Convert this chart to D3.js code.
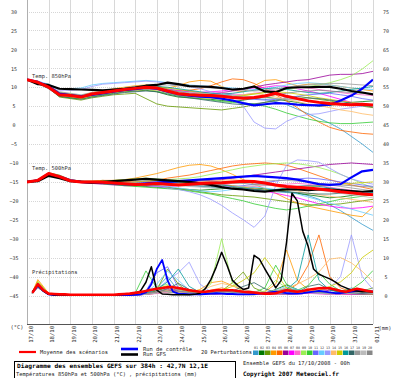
<!DOCTYPE html>
<html><head><meta charset="utf-8">
<script src="https://cdn.jsdelivr.net/npm/d3@7"></script>
<style>html,body{margin:0;padding:0;background:#fff;overflow:hidden}text{font-family:"DejaVu Sans Mono",monospace}</style>
</head><body><svg id="c" width="400" height="378"></svg>
<script>
const DATES = ["17/10","18/10","19/10","20/10","21/10","22/10","23/10","24/10","25/10","26/10","26/10","27/10","28/10","29/10","30/10","31/10","01/11"];
const LEFT_TICKS = [30,25,20,15,10,5,0,-5,-10,-15,-20,-25,-30,-35,-40,-45];
const RIGHT_TICKS = [75,70,65,60,55,50,45,40,35,30,25,20,15,10,5,0];
const HOURS = d3.range(0, 385, 12);
const P_HOURS = [6].concat(d3.range(12, 385, 12));
const P6_HOURS = d3.range(6, 385, 6);
const MEMBER_IDS = ["01","02","03","04","05","06","07","08","09","10","11","12","13","14","15","16","17","18","19","20"];
const MEMBER_COLORS = ["#3399cc","#007700","#669900","#ff9900","#ff6600","#990099","#ff00ff","#ff66cc","#99ee55","#33cc33","#6666ff","#66ccff","#9999ff","#ffbb66","#cccc00","#009999","#336666","#999999","#bbbbbb","#888888"];

const T850_MEAN = [12.0,11.3,10.0,8.0,7.8,7.4,8.2,8.6,9.0,9.4,9.7,10.0,9.8,9.0,8.3,8.0,7.9,7.8,7.6,7.3,7.1,7.3,7.7,8.4,7.6,7.0,6.4,6.0,5.7,5.5,5.4,5.5,5.3];
const T850_GFS = [12.0,10.8,10.6,9.6,9.5,9.4,9.3,9.2,9.4,9.6,9.9,10.4,10.6,11.2,10.8,10.3,10.2,10.1,9.8,9.4,9.6,10.2,8.9,8.7,9.8,10.0,10.0,10.1,10.1,9.6,9.0,8.6,8.1];
const T850_CTRL = [12.0,11.4,10.2,8.3,7.9,7.6,8.0,8.4,8.8,9.2,9.5,9.8,9.6,8.8,8.2,7.8,7.5,7.4,7.0,6.5,5.8,5.2,5.5,5.8,5.7,5.4,5.3,5.2,5.4,6.5,7.8,9.6,12.0];
const T850_PERT = [
[12.0,11.2,10.2,8.4,8.0,7.6,8.3,8.8,9.2,9.6,10.2,10.5,10.3,9.6,9.0,8.8,8.6,8.4,8.2,8.0,7.4,7.0,6.8,6.2,5.4,4.2,3.0,1.8,0.5,-1.0,-3.0,-5.0,-7.2],
[12.0,11.0,9.8,7.6,7.2,7.0,7.6,8.0,8.4,8.8,9.0,9.2,8.8,8.0,7.4,7.2,7.0,6.8,6.5,6.2,6.6,7.0,7.4,7.0,6.4,6.0,5.4,5.0,5.2,5.6,6.0,6.2,6.4],
[12.0,11.2,9.8,7.4,7.0,6.6,7.2,7.6,8.0,8.2,8.4,7.0,5.6,5.0,4.8,4.6,4.4,4.2,4.0,4.4,4.8,5.4,6.0,6.6,7.2,7.6,7.2,6.8,6.4,5.8,5.4,5.0,4.6],
[12.0,11.4,10.4,8.6,8.2,7.8,8.6,9.0,9.6,10.0,10.4,10.6,10.2,9.8,10.4,11.4,11.8,11.6,10.2,9.2,8.8,10.4,11.8,12.0,11.2,10.4,10.8,11.0,10.6,10.2,9.8,9.4,9.0],
[12.0,11.3,10.2,8.2,7.9,7.5,8.0,8.6,9.0,9.4,9.8,10.0,9.6,9.2,9.0,9.2,9.6,10.4,11.4,12.2,12.0,11.0,9.6,8.0,6.4,4.6,2.6,0.8,-0.6,-1.4,-1.8,-2.2,-2.4],
[12.0,11.4,10.2,8.4,8.0,7.6,8.2,8.8,9.2,9.4,9.6,9.8,9.4,8.8,8.4,8.2,8.0,8.2,8.6,9.0,9.4,10.0,10.6,11.0,11.4,11.8,12.0,12.6,13.2,13.4,13.4,13.6,14.2],
[12.0,11.2,10.0,8.0,7.6,7.4,8.0,8.4,8.8,9.2,9.6,9.8,9.6,9.4,9.2,8.8,8.6,8.8,9.0,9.4,9.6,9.8,10.0,10.4,10.2,9.6,9.0,8.4,7.6,6.8,6.0,5.6,5.4],
[12.0,11.3,10.0,8.2,7.8,7.4,8.0,8.4,8.8,9.2,9.4,9.6,9.4,9.0,8.6,8.4,8.6,8.8,8.6,8.2,8.0,8.4,8.8,9.2,9.6,10.0,9.8,9.4,9.0,8.6,8.2,8.0,7.8],
[12.0,11.4,10.2,8.6,8.2,7.8,8.4,8.8,9.4,9.8,10.0,10.2,9.8,9.0,8.4,8.0,7.6,7.4,7.2,7.4,7.8,8.2,8.6,9.0,9.4,9.8,10.2,10.6,11.2,12.0,13.0,14.8,17.0],
[12.0,11.2,9.8,7.8,7.4,7.0,7.6,8.0,8.6,9.0,9.2,9.4,9.0,8.4,7.8,7.4,7.0,6.6,6.2,6.0,5.8,5.6,5.0,4.2,3.2,2.4,1.6,1.0,0.6,0.4,0.4,0.6,0.8],
[12.0,11.3,10.1,8.2,7.8,7.5,8.2,8.6,9.0,9.4,9.8,10.0,9.6,8.8,8.2,8.0,7.8,7.6,7.4,7.2,7.0,6.8,6.6,6.8,7.2,7.6,8.0,8.2,8.4,8.0,7.6,7.0,6.6],
[12.0,11.6,10.8,9.6,9.6,9.8,10.6,11.0,11.2,11.4,11.6,11.8,11.6,11.2,10.8,10.6,10.4,10.2,10.0,9.8,9.6,9.4,9.6,10.0,10.6,11.0,11.2,11.0,10.6,10.2,9.8,9.6,9.4],
[12.0,11.6,10.6,9.2,9.2,9.4,10.2,10.8,11.0,11.2,11.4,11.6,11.4,11.0,10.6,10.2,9.6,8.8,8.0,6.8,5.0,0.8,-0.8,-1.0,1.0,2.2,2.8,3.0,3.6,4.2,4.6,5.0,5.4],
[12.0,11.2,10.0,8.0,7.6,7.2,7.8,8.2,8.6,9.0,9.2,9.4,9.2,8.6,8.0,7.6,7.2,7.0,7.2,7.6,8.0,8.4,8.0,7.4,6.8,6.2,5.6,5.2,4.6,4.0,3.6,3.0,2.6],
[12.0,11.1,9.9,7.8,7.4,7.0,7.6,8.2,8.6,9.0,9.4,9.8,10.0,9.8,9.4,9.0,8.6,8.2,7.8,7.6,7.8,8.2,8.6,8.8,8.6,8.2,7.8,7.2,6.8,6.4,6.0,5.6,5.2],
[12.0,11.3,10.1,8.2,7.8,7.4,8.0,8.4,8.8,9.2,9.6,10.0,10.2,10.0,9.6,9.2,8.8,8.4,8.2,8.4,8.8,9.2,9.6,9.8,9.4,9.0,8.6,8.4,8.6,9.0,9.4,9.8,10.2],
[12.0,11.0,9.6,7.6,7.2,6.8,7.4,7.8,8.2,8.6,8.8,9.0,8.8,8.2,7.6,7.2,6.8,6.4,6.0,5.6,5.4,5.6,6.0,6.4,6.8,7.0,7.2,7.0,6.6,6.2,5.8,5.2,4.8],
[12.0,11.4,10.4,8.8,8.4,8.0,8.6,9.0,9.4,9.8,10.2,10.4,10.6,10.6,10.4,10.2,10.0,9.8,9.6,9.4,9.2,9.0,9.2,9.6,10.0,10.4,10.6,10.8,11.0,11.0,10.8,10.6,10.4],
[12.0,11.2,10.0,8.0,7.6,7.2,7.8,8.4,8.8,9.2,9.6,9.8,9.6,9.2,8.8,8.6,8.4,8.2,8.0,7.8,7.6,7.4,7.2,7.0,6.8,6.6,6.4,6.2,6.0,5.8,5.6,5.4,5.2],
[12.0,11.3,10.2,8.4,8.0,7.6,8.2,8.6,9.0,9.4,9.8,10.2,10.0,9.4,8.8,8.4,8.2,8.0,7.8,7.6,7.4,7.2,7.6,8.0,8.4,8.8,9.0,9.2,9.0,8.8,8.6,8.4,8.2]
];

const T500_MEAN = [-15.0,-14.6,-12.8,-13.6,-14.7,-15.0,-15.0,-15.1,-15.3,-15.5,-15.7,-15.6,-15.4,-15.6,-15.8,-15.6,-15.4,-15.3,-15.2,-15.0,-14.8,-14.9,-15.3,-15.8,-16.2,-16.4,-16.6,-16.9,-17.2,-17.6,-17.9,-18.2,-18.4];
const T500_GFS = [-15.0,-14.8,-13.4,-14.0,-14.8,-15.0,-15.2,-15.0,-14.8,-14.6,-14.4,-14.2,-14.4,-14.6,-14.8,-15.0,-15.4,-15.8,-16.4,-16.8,-17.0,-17.4,-17.6,-17.2,-17.0,-17.0,-17.2,-17.0,-17.0,-17.2,-17.4,-17.6,-17.4];
const T500_CTRL = [-15.0,-14.6,-13.0,-13.6,-14.6,-15.0,-15.2,-15.2,-15.4,-15.6,-15.6,-15.4,-15.2,-15.0,-14.8,-14.6,-14.4,-14.2,-14.0,-13.8,-13.6,-13.4,-13.6,-13.8,-14.0,-14.4,-15.0,-15.6,-15.8,-15.6,-13.8,-12.2,-11.8];
const T500_PERT = [
[-15.0,-14.6,-13.0,-13.6,-14.6,-15.0,-15.1,-15.2,-15.4,-15.8,-16.0,-15.8,-15.6,-15.6,-15.8,-16.0,-16.2,-16.4,-16.6,-16.8,-17.0,-17.2,-17.4,-17.6,-17.8,-18.0,-18.6,-19.6,-21.0,-22.6,-24.4,-26.2,-27.8],
[-15.0,-14.5,-12.8,-13.4,-14.6,-15.0,-15.2,-15.4,-15.6,-15.8,-16.0,-16.2,-16.4,-16.6,-16.8,-17.0,-17.2,-17.0,-16.8,-16.6,-16.4,-16.6,-16.8,-17.2,-17.6,-18.0,-18.4,-18.8,-19.2,-19.0,-18.6,-18.2,-17.8],
[-15.0,-14.4,-12.6,-13.2,-14.4,-14.8,-14.8,-14.6,-14.8,-15.0,-15.2,-15.6,-16.0,-16.4,-16.8,-17.2,-17.6,-18.0,-18.4,-18.6,-18.8,-19.0,-19.4,-19.8,-20.2,-20.6,-21.0,-21.2,-21.0,-20.8,-20.4,-20.0,-19.6],
[-15.0,-14.6,-13.0,-13.8,-14.8,-15.0,-15.0,-14.8,-14.6,-14.4,-14.0,-13.4,-12.8,-12.0,-11.2,-10.6,-10.4,-10.8,-11.8,-13.0,-14.4,-15.6,-16.8,-18.0,-19.4,-20.6,-21.4,-22.0,-22.6,-23.2,-23.8,-24.2,-21.6],
[-15.0,-14.7,-13.2,-13.8,-14.6,-14.8,-14.8,-14.6,-14.6,-14.8,-15.0,-15.0,-14.6,-14.0,-13.6,-13.2,-12.6,-12.0,-11.4,-10.8,-10.4,-10.2,-10.0,-10.2,-10.6,-11.4,-12.4,-13.4,-14.4,-15.2,-15.8,-16.4,-17.0],
[-15.0,-14.5,-12.9,-13.6,-14.8,-15.2,-15.4,-15.6,-15.8,-16.0,-16.0,-15.8,-15.6,-15.4,-15.2,-15.0,-14.8,-14.6,-14.4,-14.0,-13.6,-13.2,-12.8,-12.4,-12.0,-11.6,-11.2,-10.8,-10.4,-10.2,-10.0,-10.2,-10.4],
[-15.0,-14.6,-13.0,-13.6,-14.6,-15.0,-15.0,-15.2,-15.4,-15.6,-15.8,-16.0,-16.2,-16.2,-16.0,-15.8,-15.6,-15.4,-15.6,-16.0,-16.4,-16.8,-17.4,-18.0,-18.6,-19.2,-20.0,-20.8,-21.4,-21.8,-22.0,-21.8,-21.4],
[-15.0,-14.5,-12.9,-13.5,-14.5,-14.9,-15.0,-15.0,-15.2,-15.4,-15.6,-15.4,-15.2,-15.0,-15.2,-15.4,-15.6,-15.8,-16.0,-16.2,-16.4,-16.2,-16.0,-15.8,-15.6,-15.4,-15.6,-16.0,-16.4,-16.8,-17.2,-17.6,-18.0],
[-15.0,-14.4,-12.7,-13.4,-14.6,-15.0,-15.0,-14.8,-14.6,-14.4,-14.2,-14.0,-14.2,-14.4,-14.2,-14.0,-13.6,-13.0,-12.4,-11.8,-11.2,-10.8,-10.4,-10.2,-10.0,-10.2,-10.6,-11.2,-12.0,-13.0,-14.2,-15.4,-16.6],
[-15.0,-14.6,-13.1,-13.7,-14.7,-15.1,-15.3,-15.5,-15.7,-16.0,-16.2,-16.4,-16.6,-16.8,-17.0,-17.4,-17.8,-18.2,-18.8,-19.4,-20.0,-20.8,-21.4,-22.0,-22.4,-22.0,-21.4,-20.8,-20.2,-19.6,-19.2,-18.8,-18.4],
[-15.0,-14.6,-13.0,-13.6,-14.6,-15.0,-15.2,-15.4,-15.4,-15.2,-15.0,-14.8,-14.8,-15.0,-15.2,-15.4,-15.6,-15.8,-16.0,-16.2,-16.0,-15.6,-15.2,-14.8,-14.4,-14.2,-14.0,-14.2,-14.6,-15.0,-15.4,-15.8,-16.2],
[-15.0,-14.5,-12.8,-13.4,-14.4,-14.8,-14.9,-15.0,-15.2,-15.4,-15.6,-15.8,-16.0,-16.2,-16.6,-17.0,-17.4,-17.6,-17.4,-17.0,-16.6,-16.4,-16.6,-17.0,-17.6,-18.2,-19.0,-19.8,-20.6,-21.4,-22.2,-23.0,-23.8],
[-15.0,-14.6,-13.0,-13.6,-14.6,-15.0,-15.1,-15.2,-15.4,-15.6,-15.8,-16.0,-16.2,-16.6,-17.0,-17.6,-18.4,-19.6,-21.2,-23.2,-25.0,-27.0,-24.0,-16.0,-10.6,-9.2,-9.4,-9.8,-11.4,-13.0,-14.2,-15.0,-15.6],
[-15.0,-14.6,-13.1,-13.7,-14.7,-15.0,-15.0,-15.0,-15.0,-15.2,-15.4,-15.6,-15.8,-15.6,-15.4,-15.2,-15.0,-14.8,-14.6,-14.4,-14.6,-15.0,-15.6,-16.2,-16.8,-17.4,-18.0,-18.4,-18.8,-19.2,-19.6,-20.0,-20.4],
[-15.0,-14.5,-12.9,-13.5,-14.5,-14.9,-15.0,-15.1,-15.2,-15.2,-15.0,-14.8,-14.6,-14.8,-15.0,-15.2,-15.4,-15.6,-15.8,-16.0,-16.4,-16.8,-17.2,-17.4,-17.2,-16.8,-16.4,-16.0,-15.8,-15.6,-15.4,-15.2,-15.0],
[-15.0,-14.6,-13.0,-13.6,-14.6,-15.0,-15.2,-15.4,-15.6,-15.8,-15.8,-15.6,-15.4,-15.2,-15.0,-15.0,-15.2,-15.4,-15.8,-16.2,-16.6,-17.0,-17.2,-17.0,-16.6,-16.2,-16.0,-16.2,-16.6,-17.0,-17.4,-17.6,-17.8],
[-15.0,-14.7,-13.2,-13.8,-14.8,-15.1,-15.2,-15.2,-15.2,-15.4,-15.6,-15.8,-15.8,-15.6,-15.6,-15.8,-16.0,-16.2,-16.4,-16.6,-16.8,-17.0,-17.2,-17.4,-17.6,-17.8,-18.0,-18.2,-18.2,-18.0,-17.8,-17.6,-17.4],
[-15.0,-14.5,-12.9,-13.5,-14.6,-15.0,-15.1,-15.2,-15.3,-15.4,-15.5,-15.6,-15.7,-15.8,-15.9,-16.0,-16.0,-15.8,-15.6,-15.4,-15.2,-15.0,-14.8,-14.6,-14.6,-14.8,-15.0,-15.4,-15.8,-16.2,-16.6,-17.0,-17.4],
[-15.0,-14.6,-13.0,-13.6,-14.6,-15.0,-15.0,-15.0,-15.1,-15.2,-15.3,-15.4,-15.6,-15.8,-16.0,-16.2,-16.4,-16.6,-16.6,-16.4,-16.2,-16.0,-15.8,-15.8,-16.0,-16.4,-16.8,-17.2,-17.6,-18.0,-18.4,-18.8,-19.2],
[-15.0,-14.6,-13.0,-13.6,-14.6,-14.9,-15.0,-15.1,-15.2,-15.3,-15.4,-15.4,-15.2,-15.0,-14.8,-14.6,-14.6,-14.8,-15.0,-15.2,-15.4,-15.6,-15.8,-16.0,-16.2,-16.2,-16.0,-15.8,-15.6,-15.8,-16.0,-16.2,-16.4]
];

const PR_MEAN = [0.7,3.0,1.4,0.5,0.4,0.3,0.3,0.2,0.2,0.2,0.2,0.2,0.2,0.2,0.2,0.2,0.3,0.4,0.5,0.7,0.9,1.2,1.5,1.8,2.0,2.2,2.2,2.0,1.7,1.4,1.2,1.0,1.0,1.2,1.4,1.4,1.4,1.4,1.2,1.0,0.9,0.8,0.6,0.5,0.5,0.6,1.0,1.4,1.2,1.0,1.2,1.5,1.7,1.9,2.0,1.9,1.6,1.2,1.0,1.4,1.8,1.5,1.2,1.0];
const PR_GFS = [1.0,2.8,1.2,0.3,0.2,0.1,0.1,0.1,0.1,0.1,0.1,0.1,0.1,0.1,0.1,0.1,0.2,0.3,0.4,0.6,1.2,3.5,7.6,1.4,0.4,0.3,0.2,0.2,0.2,0.2,0.3,0.6,1.8,4.2,7.5,11.4,8.0,4.0,2.6,1.6,2.0,10.6,9.6,7.0,4.6,2.0,4.0,14.0,27.0,25.0,17.0,13.0,7.0,5.6,5.0,4.4,3.6,2.6,2.0,1.4,1.2,1.0,1.0,0.9];
const PR_CTRL = [0.8,2.6,1.2,0.3,0.1,0.1,0.1,0.1,0.1,0.1,0.1,0.1,0.1,0.1,0.1,0.1,0.1,0.1,0.1,0.2,0.3,0.8,3.0,7.0,9.4,4.0,1.0,0.5,0.4,0.3,0.3,0.3,0.4,0.5,0.6,0.5,0.4,0.4,0.3,0.3,0.3,0.4,0.5,0.6,0.8,1.0,0.8,0.6,0.5,0.5,0.6,0.8,1.0,1.2,1.0,0.8,0.6,0.6,0.8,1.0,1.2,1.4,1.2,1.0];
const PR_PERT = [
[0.8,3.4,0.5,0.1,0.1,0.1,0.1,0.1,0.1,0.2,0.3,0.8,2.0,5.0,1.2,0.4,0.3,0.5,0.8,1.2,0.6,0.3,0.4,1.0,2.0,1.4,0.8,0.6,0.4,0.8,2.0,1.2,0.6],
[0.6,2.4,0.4,0.1,0.1,0.1,0.1,0.1,0.2,0.2,0.3,0.6,1.2,2.4,1.0,0.4,0.2,0.4,1.0,0.6,0.3,0.2,0.5,1.6,2.8,1.6,1.0,0.6,0.4,0.3,0.3,0.4,0.5],
[0.7,3.0,0.5,0.1,0.1,0.1,0.1,0.1,0.1,0.1,0.2,0.5,1.4,7.0,3.0,0.6,0.3,0.4,1.2,3.4,6.2,2.0,0.8,0.5,0.4,0.6,1.0,0.8,0.6,0.5,0.6,1.2,2.0],
[0.9,4.2,0.6,0.1,0.1,0.1,0.1,0.1,0.1,0.1,0.2,0.4,0.8,1.2,1.0,0.8,1.6,3.4,3.8,2.6,1.2,0.6,1.0,3.0,12.0,4.0,1.6,1.0,0.8,0.6,0.5,0.4,0.4],
[0.6,2.6,0.4,0.1,0.1,0.1,0.1,0.1,0.1,0.1,0.2,0.3,0.6,1.0,0.8,0.6,0.8,1.4,2.0,1.4,0.8,0.5,0.4,0.6,1.2,3.0,8.0,16.0,5.0,2.0,1.0,0.6,0.4],
[0.5,2.0,0.4,0.1,0.1,0.1,0.1,0.1,0.1,0.1,0.1,0.3,0.6,1.2,1.6,1.0,0.5,0.3,0.4,0.6,1.0,0.6,0.4,0.3,0.3,0.4,0.6,1.0,1.4,1.2,0.8,0.6,0.5],
[0.7,3.2,0.5,0.1,0.1,0.1,0.1,0.1,0.1,0.1,0.2,0.4,0.9,1.8,1.2,0.6,0.4,0.4,0.6,0.8,0.6,0.4,0.6,1.0,1.6,1.2,0.8,0.5,0.4,0.3,0.3,0.4,0.5],
[0.6,2.8,0.4,0.1,0.1,0.1,0.1,0.1,0.1,0.1,0.1,0.3,0.5,0.8,0.6,0.4,0.3,0.5,0.8,0.6,0.4,0.3,0.3,0.4,0.6,0.8,0.6,0.4,0.3,0.3,0.4,0.5,0.6],
[0.8,3.6,0.5,0.1,0.1,0.1,0.1,0.1,0.1,0.2,0.3,0.8,2.2,3.0,1.4,0.8,1.0,3.0,15.0,3.2,1.0,0.6,1.2,4.0,2.0,1.0,0.8,1.2,2.0,1.4,1.0,0.8,0.6],
[0.7,3.0,0.4,0.1,0.1,0.1,0.1,0.1,0.1,0.2,0.6,6.5,2.0,1.0,0.6,0.4,0.4,0.8,1.6,1.0,0.6,0.8,2.0,8.0,3.0,1.4,2.6,6.0,3.0,1.2,1.6,3.6,6.6],
[0.8,3.0,0.5,0.1,0.1,0.1,0.1,0.1,0.1,0.1,0.3,1.2,6.0,7.6,2.0,0.8,0.5,0.4,0.6,0.8,0.6,0.4,0.4,0.6,0.8,1.0,0.8,0.6,0.5,0.6,0.8,1.0,0.8],
[0.6,2.6,0.4,0.1,0.1,0.1,0.1,0.1,0.1,0.1,0.2,0.8,3.0,6.4,4.0,1.4,0.6,0.5,0.8,1.2,0.8,0.5,0.6,1.4,2.4,1.6,1.0,0.8,0.6,0.8,1.2,1.6,1.2],
[0.7,3.2,0.5,0.1,0.1,0.1,0.1,0.1,0.1,0.1,0.2,0.6,1.6,4.0,6.0,8.8,3.0,1.0,0.6,0.5,0.6,1.0,0.8,0.6,0.5,0.6,0.8,1.2,2.0,5.0,16.0,5.0,1.6],
[0.5,2.2,0.4,0.1,0.1,0.1,0.1,0.1,0.1,0.1,0.2,0.4,0.8,1.4,2.0,1.6,1.2,2.4,3.2,2.6,1.6,1.0,0.8,1.2,2.0,3.0,4.4,6.2,9.6,10.0,8.6,6.4,3.6],
[0.8,3.8,0.5,0.1,0.1,0.1,0.1,0.1,0.1,0.2,0.4,1.0,1.8,2.6,1.8,1.0,0.6,0.8,1.4,2.4,4.0,6.0,10.0,6.0,2.0,1.0,0.8,1.4,2.4,3.6,6.0,10.0,12.0],
[0.6,2.6,0.4,0.1,0.1,0.1,0.1,0.1,0.1,0.1,0.2,0.6,1.6,3.6,7.0,2.4,0.8,0.5,0.6,0.8,1.0,0.8,0.6,0.8,1.6,4.0,16.0,4.0,1.4,0.8,0.6,0.6,0.8],
[0.5,2.2,0.3,0.1,0.1,0.1,0.1,0.1,0.1,0.1,0.1,0.3,0.8,1.8,3.2,1.6,0.6,0.4,0.6,1.2,2.4,3.4,1.8,0.8,0.6,0.8,2.4,3.0,1.6,0.8,0.5,0.4,0.4],
[0.6,2.4,0.4,0.1,0.1,0.1,0.1,0.1,0.1,0.1,0.2,0.4,0.8,1.2,1.0,0.8,0.6,0.8,1.0,0.8,0.6,0.5,0.6,0.8,1.0,1.2,1.0,0.8,0.6,0.5,0.6,0.8,1.0],
[0.5,2.0,0.3,0.1,0.1,0.1,0.1,0.1,0.1,0.1,0.1,0.3,0.6,1.0,0.8,0.6,0.4,0.4,0.6,1.0,1.4,1.0,0.6,0.4,0.4,0.6,0.8,0.6,0.4,0.4,0.6,0.8,0.6],
[0.7,3.0,0.4,0.1,0.1,0.1,0.1,0.1,0.1,0.1,0.2,0.5,1.0,1.6,1.2,0.8,0.6,0.8,1.2,1.0,0.8,0.6,0.8,1.2,1.6,1.4,1.0,0.8,0.6,0.6,0.8,1.0,1.2]
];

const svg = d3.select("#c");
svg.append("rect").attr("width",400).attr("height",378).attr("fill","#fff");

const x = d3.scaleLinear().domain([0,384]).range([27,373]);
const yL = d3.scaleLinear().domain([-45,30]).range([295.5,11.5]);
const yR = d3.scaleLinear().domain([0,75]).range([295.5,11.5]);
const PLOT_BOTTOM = 324;

// vertical grid
svg.append("g").selectAll("line").data(d3.range(0,385,24)).join("line")
  .attr("x1",d=>Math.round(x(d))+0.5).attr("x2",d=>Math.round(x(d))+0.5)
  .attr("y1",0).attr("y2",PLOT_BOTTOM).attr("stroke","#d8d8d8").attr("stroke-width",1);
// horizontal dotted grid
svg.append("g").selectAll("line").data(LEFT_TICKS).join("line")
  .attr("x1",x(0)).attr("x2",x(384))
  .attr("y1",d=>Math.round(yL(d))+0.5).attr("y2",d=>Math.round(yL(d))+0.5)
  .attr("stroke","#d6d6d6").attr("stroke-width",1).attr("stroke-dasharray","1,1");
// axis lines
svg.append("line").attr("x1",Math.round(x(0))+0.5).attr("x2",Math.round(x(0))+0.5).attr("y1",0).attr("y2",PLOT_BOTTOM).attr("stroke","#b0b0b0");
svg.append("line").attr("x1",x(0)).attr("x2",x(384)).attr("y1",PLOT_BOTTOM+0.5).attr("y2",PLOT_BOTTOM+0.5).attr("stroke","#555");

// left axis labels
const gl = svg.append("g").attr("transform","translate(27,0)")
  .call(d3.axisLeft(yL).tickValues(LEFT_TICKS).tickSize(0).tickFormat(d3.format("d")));
gl.select(".domain").remove();
gl.selectAll("text").attr("x",-13).attr("text-anchor","middle").attr("dy","0.35em")
  .style("font-family","DejaVu Sans Mono").style("font-size","5px").attr("fill","#333");
// right axis labels
const gr = svg.append("g").attr("transform","translate(373,0)")
  .call(d3.axisRight(yR).tickValues(RIGHT_TICKS).tickSize(0).tickFormat(d3.format("d")));
gr.select(".domain").remove();
gr.selectAll("text").attr("x",13).attr("text-anchor","middle").attr("dy","0.35em")
  .style("font-family","DejaVu Sans Mono").style("font-size","5px").attr("fill","#333");
// date axis
const gb = svg.append("g").attr("transform",`translate(0,${PLOT_BOTTOM})`)
  .call(d3.axisBottom(x).tickValues(d3.range(0,385,24)).tickSize(0).tickFormat((d,i)=>DATES[i]));
gb.select(".domain").remove();
gb.selectAll("text").attr("x",0).attr("y",0).attr("dy",0)
  .attr("text-anchor","end")
  .attr("transform","translate(5,2) rotate(-90)")
  .style("font-family","DejaVu Sans Mono").style("font-size","5.6px").attr("fill","#333");

svg.append("text").attr("x",17).attr("y",329).attr("text-anchor","middle").style("font-size","5.4px").attr("fill","#333").text("(°C)");
svg.append("text").attr("x",385).attr("y",330).attr("text-anchor","middle").style("font-size","5.4px").attr("fill","#333").text("(mm)");

// section labels
[["Temp. 850hPa",78],["Temp. 500hPa",170],["Précipitations",274]].forEach(([t,yy])=>{
  svg.append("text").attr("x",32).attr("y",yy).style("font-size","5.4px").attr("fill","#333").text(t);
});

// clip
svg.append("clipPath").attr("id","pc").append("rect").attr("x",27).attr("y",0).attr("width",346).attr("height",PLOT_BOTTOM);
const plot = svg.append("g").attr("clip-path","url(#pc)");

function pts(hours, vals){ return vals.map((v,i)=>[hours[i],v]).filter(d=>d[0]!==undefined); }
const lineT = d3.line().x(d=>x(d[0])).y(d=>yL(d[1]));
const lineP = d3.line().x(d=>x(d[0])).y(d=>yR(d[1]));

function drawPert(arr, hours, gen){
  arr.forEach((s,i)=>{
    plot.append("path").attr("d",gen(pts(hours,s))).attr("fill","none")
      .attr("stroke",MEMBER_COLORS[i]).attr("stroke-width",0.8).attr("stroke-linejoin","round");
  });
}
drawPert(T850_PERT, HOURS, lineT);
drawPert(T500_PERT, HOURS, lineT);
drawPert(PR_PERT, P_HOURS, lineP);

function drawMain(vals, hours, gen, color, w){
  plot.append("path").attr("d",gen(pts(hours,vals))).attr("fill","none")
    .attr("stroke",color).attr("stroke-width",w).attr("stroke-linejoin","round");
}
drawMain(T850_CTRL, HOURS, lineT, "#0000ff", 2.2);
drawMain(T500_CTRL, HOURS, lineT, "#0000ff", 2.2);
drawMain(PR_CTRL, P6_HOURS, lineP, "#0000ff", 1.8);
drawMain(T850_GFS, HOURS, lineT, "#000000", 2.2);
drawMain(T500_GFS, HOURS, lineT, "#000000", 2.2);
drawMain(PR_GFS, P6_HOURS, lineP, "#000000", 1.5);
drawMain(T850_MEAN, HOURS, lineT, "#ff0000", 3);
drawMain(T500_MEAN, HOURS, lineT, "#ff0000", 3);
drawMain(PR_MEAN, P6_HOURS, lineP, "#ff0000", 2.6);

// legend
svg.append("line").attr("x1",19).attr("x2",36).attr("y1",352).attr("y2",352).attr("stroke","#ff0000").attr("stroke-width",2.2);
svg.append("text").attr("x",40).attr("y",354).attr("textLength",68).attr("lengthAdjust","spacingAndGlyphs").style("font-size","5.4px").attr("fill","#222").text("Moyenne des scénarios");
svg.append("line").attr("x1",121).attr("x2",138).attr("y1",349).attr("y2",349).attr("stroke","#0000ff").attr("stroke-width",2.6);
svg.append("line").attr("x1",121).attr("x2",138).attr("y1",354.5).attr("y2",354.5).attr("stroke","#000").attr("stroke-width",2.6);
svg.append("text").attr("x",143).attr("y",350.5).attr("textLength",49).attr("lengthAdjust","spacingAndGlyphs").style("font-size","5.4px").attr("fill","#222").text("Run de contrôle");
svg.append("text").attr("x",143).attr("y",356).attr("textLength",23).attr("lengthAdjust","spacingAndGlyphs").style("font-size","5.4px").attr("fill","#222").text("Run GFS");
svg.append("text").attr("x",201).attr("y",354).attr("textLength",51).attr("lengthAdjust","spacingAndGlyphs").style("font-size","5.4px").attr("fill","#222").text("20 Perturbations");
const sw = svg.append("g");
sw.selectAll("rect").data(MEMBER_IDS).join("rect")
  .attr("x",(d,i)=>253+i*6).attr("y",350.5).attr("width",5.5).attr("height",4.5)
  .attr("fill",(d,i)=>MEMBER_COLORS[i]);
sw.selectAll("text").data(MEMBER_IDS).join("text")
  .attr("x",(d,i)=>256+i*6).attr("y",348.5).attr("text-anchor","middle")
  .style("font-size","3.4px").attr("fill","#333").text(d=>d);

// footer box
svg.append("rect").attr("x",14.5).attr("y",361.5).attr("width",221).attr("height",20).attr("fill","none").attr("stroke","#000").attr("stroke-width",1);
svg.append("text").attr("x",17).attr("y",367.5).attr("textLength",191).attr("lengthAdjust","spacingAndGlyphs").style("font-size","6px").style("font-weight","bold").attr("fill","#000").text("Diagramme des ensembles GEFS sur 384h : 42,7N 12,1E");
svg.append("text").attr("x",16).attr("y",375.5).attr("textLength",181).attr("lengthAdjust","spacingAndGlyphs").style("font-size","5.4px").attr("fill","#222").text("Températures 850hPa et 500hPa (°C) , précipitations (mm)");
svg.append("text").attr("x",243).attr("y",365).attr("textLength",107).attr("lengthAdjust","spacingAndGlyphs").style("font-size","5.4px").attr("fill","#222").text("Ensemble GEFS du 17/10/2008 - 00h");
svg.append("text").attr("x",243).attr("y",375.5).attr("textLength",96).attr("lengthAdjust","spacingAndGlyphs").style("font-size","6px").style("font-weight","bold").attr("fill","#000").text("Copyright 2007 Meteociel.fr");
</script></body></html>
